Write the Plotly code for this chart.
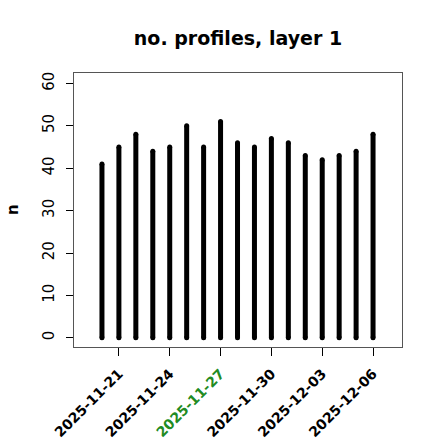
import plotly.graph_objects as go
import pandas as pd

dates = pd.date_range("2025-11-20", "2025-12-06", freq="D")
counts = [41, 45, 48, 44, 45, 50, 45, 51, 46, 45, 47, 46, 43, 42, 43, 44, 48]
tick_dates = ["2025-11-21", "2025-11-24", "2025-11-27", "2025-11-30", "2025-12-03", "2025-12-06"]
highlight = "2025-11-27"
y_ticks = [0, 10, 20, 30, 40, 50, 60]
title = "no. profiles, layer 1"
y_label = "n"

xs, ys = [], []
for d, v in zip(dates, counts):
    xs += [d, d, None]
    ys += [0, v, None]

fig = go.Figure()
fig.add_trace(go.Scatter(x=xs, y=ys, mode="lines",
                         line=dict(color="black", width=5), hoverinfo="skip",
                         showlegend=False))
fig.add_trace(go.Scatter(x=list(dates) * 2, y=counts + [0] * len(counts), mode="markers",
                         marker=dict(color="black", size=5, line=dict(width=0)),
                         showlegend=False, hoverinfo="skip"))

ticktext = []
for t in tick_dates:
    if t == highlight:
        ticktext.append(f"<span style='color:forestgreen'>{t}</span>")
    else:
        ticktext.append(t)

x0 = dates[0] - pd.Timedelta(hours=39.6)
x1 = dates[-1] + pd.Timedelta(hours=41)

fig.update_layout(
    width=440, height=440,
    margin=dict(l=74, r=38, t=73, b=93),
    paper_bgcolor="white", plot_bgcolor="white",
    font=dict(family="DejaVu Sans", color="black", size=14),
    title=dict(text=title, x=0.5, xref="paper", xanchor="center",
               y=1 - 38 / 440, yref="container", yanchor="middle",
               font=dict(size=19, color="black", weight="bold")),
    xaxis=dict(type="date", range=[x0, x1], tickvals=pd.to_datetime(tick_dates),
               ticktext=ticktext, tickangle=-45, ticks="outside", ticklen=8,
               tickcolor="black", showgrid=False, zeroline=False,
               showline=True, linecolor="#555", linewidth=1, mirror=True,
               tickfont=dict(size=14, weight="bold"), ticklabelstandoff=4,
               automargin=False),
    yaxis=dict(range=[-2.17, 62.46], tickvals=y_ticks, tickangle=-90,
               ticks="outside", ticklen=7, tickcolor="black", showgrid=False,
               zeroline=False, showline=True, linecolor="#555", linewidth=1,
               mirror=True, tickfont=dict(size=15), ticklabelstandoff=6,
               automargin=False),
    annotations=[dict(text=y_label, x=(13 - 74) / 328, y=0.5, xanchor="center",
                      yanchor="middle", xref="paper", yref="paper", showarrow=False,
                      textangle=-90, font=dict(size=15, color="black", weight="bold"))],
)

fig.write_html("out.html", config={"displayModeBar": False},
               post_script="document.body.style.margin='0';document.body.style.overflow='hidden';")
